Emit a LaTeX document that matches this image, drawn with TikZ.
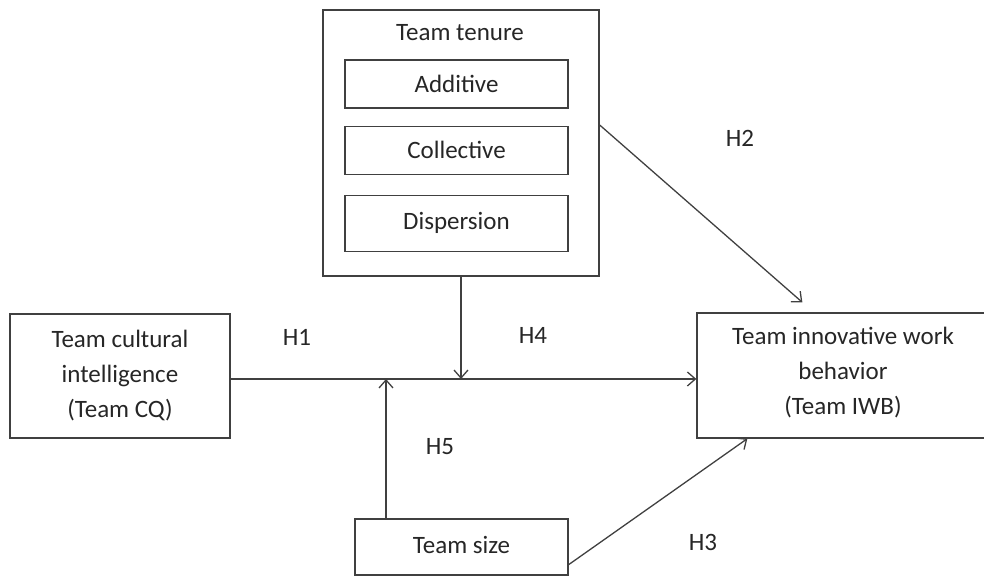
\documentclass[tikz,border=0pt]{standalone}
\usepackage{fontspec}
\setmainfont{Carlito}
\usetikzlibrary{positioning, arrows.meta}
\colorlet{myline}{black!75}
\colorlet{mytext}{black!85}

\begin{document}
\begin{tikzpicture}[x=1pt,y=1pt,>={Straight Barb[length=8pt,width=14pt]},line width=1.3pt,
  font=\fontsize{25}{35}\selectfont,text=mytext]
  \tikzstyle{box}=[draw=myline,rectangle,align=center,inner sep=0pt]
  \tikzstyle{hyp}=[inner sep=0pt]
  \useasboundingbox (0,0) rectangle (984,577);

  \node[box,minimum width=276pt,minimum height=266pt] (tenure) at (461,434) {};
  \node (tenuretxt) at (460,544) {Team tenure};
  \node[box,minimum width=223pt,minimum height=48pt] (additive) at (456.5,493) {Additive};
  \node[box,minimum width=223pt,minimum height=48pt] (collective) [below=17pt of additive] {Collective};
  \node[box,minimum width=223pt,minimum height=56pt] (dispersion) [below=20pt of collective] {\raisebox{6pt}{Dispersion}};

  \node[box,minimum width=220pt,minimum height=124pt] (cq) at (120,201) {Team cultural\\intelligence\\(Team CQ)};
  \node[box,minimum width=320pt,minimum height=125pt] (iwb) at (857,201.5) {};
  \node[align=center] (iwbtxt) at (843,204) {Team innovative work\\behavior\\(Team IWB)};
  \node[box,minimum width=213pt,minimum height=56pt] (size) at (461.5,30) {\raisebox{5pt}{Team size}};

  \coordinate (j4) at (461,198);
  \coordinate (j5) at (386,198);

  \draw[->,myline] (cq.east |- j4) -- (iwb.west |- j4);
  \draw[->,myline] (tenure) -- (j4);
  \draw[->,myline] (size.north -| j5) -- (j5);
  \draw[->,myline] ([yshift=18pt]tenure.east) -- ([xshift=106pt,yshift=10pt]iwb.north west);
  \draw[->,myline] ([yshift=11pt]size.south east) -- ([xshift=51pt]iwb.south west);

  \node[hyp] (h1) at (297,240) {H1};
  \node[hyp] (h2) at (740,439) {H2};
  \node[hyp] (h3) at (703,35) {H3};
  \node[hyp] (h4) at (533,242) {H4};
  \node[hyp] (h5) at (440,130) {H5};
\end{tikzpicture}
\end{document}
